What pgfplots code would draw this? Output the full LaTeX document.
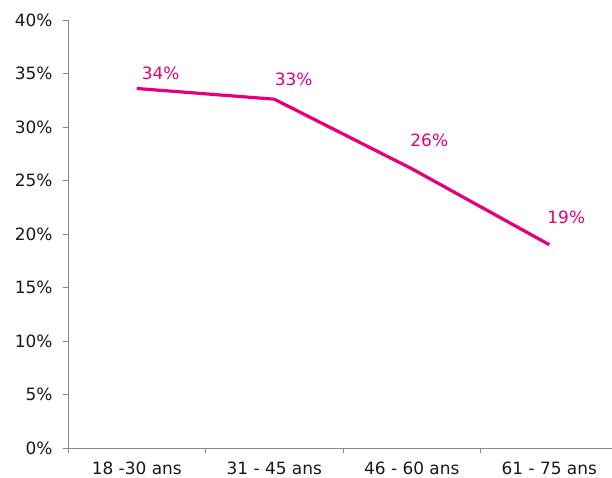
\documentclass[border=0pt]{standalone}
\usepackage{pgfplots}
\pgfplotsset{compat=1.18}
\usepackage{pgfplotstable}
\usepackage{fontspec}
\setmainfont{DejaVu Sans}
\definecolor{linemag}{HTML}{E4007C}
\definecolor{axisgray}{HTML}{888888}

% x, share (%), label offset in bp
\pgfplotstableread{
x y dx dy
0 33.6 24 15.5
1 32.6 19.5 20
2 26.1 17.5 28.5
3 19.0 17 27
}\agedata

\begin{document}
\begin{tikzpicture}
\begin{axis}[
  scale only axis,
  width=544bp,
  height=428bp,
  xmin=-0.5, xmax=3.456,
  ymin=0, ymax=40,
  clip=false,
  axis x line*=bottom,
  axis y line*=left,
  axis line style={axisgray, line width=0.8pt},
  tick style={axisgray, line width=0.8pt},
  ytick={0,5,...,40},
  yticklabel={\pgfmathprintnumber{\tick}\%},
  tick align=outside,
  major tick length=5bp,
  xtick={-0.5,0.5,1.5,2.5},
  xticklabels={},
  extra x ticks={0,1,2,3},
  extra x tick labels={18 -30 ans, 31 - 45 ans, 46 - 60 ans, 61 - 75 ans},
  extra x tick style={major tick length=0pt, tick label style={yshift=-10bp}},
  ticklabel style={font=\fontsize{17}{20}\selectfont, text=black!90},
  /pgf/number format/assume math mode=true,
  yticklabel style={xshift=-7bp},
]
\addplot[linemag, line width=3.2bp,
  nodes near coords={\pgfmathprintnumber[fixed,precision=0]{\pgfplotspointmeta}\%},
  visualization depends on={\thisrow{dx}\as\dx},
  visualization depends on={\thisrow{dy}\as\dy},
  every node near coord/.append style={anchor=center, xshift=\dx bp, yshift=\dy bp,
    text=linemag, font=\fontsize{17}{20}\selectfont},
  point meta=explicit,
] table[x=x, y=y, meta=y] {\agedata};
\coordinate (sw) at (rel axis cs:0,0);
\coordinate (ne) at (rel axis cs:1,1);
\end{axis}
\pgfresetboundingbox
\path[use as bounding box] ([shift={(-68bp,-30bp)}]sw) rectangle ([shift={(0bp,20bp)}]ne);
\end{tikzpicture}
\end{document}
